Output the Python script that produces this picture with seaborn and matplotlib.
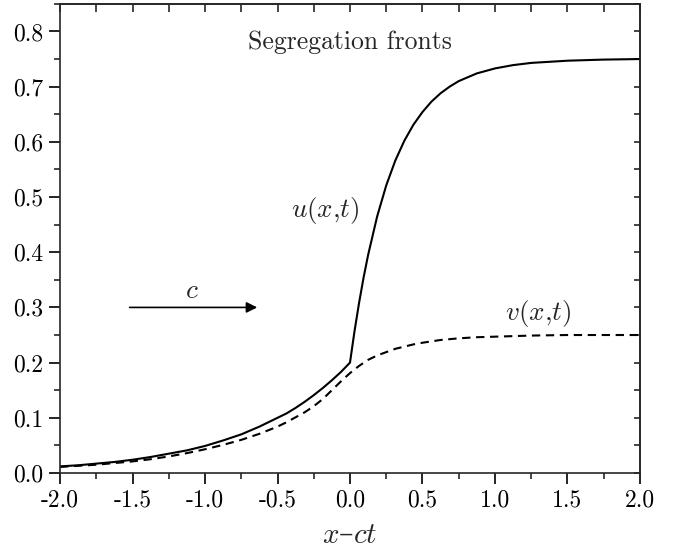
import pandas as pd
import matplotlib
matplotlib.use("Agg")
import matplotlib.pyplot as plt
from matplotlib.ticker import MultipleLocator
import seaborn as sns

# --- values ---
u_x = [-2.0, -1.875, -1.75, -1.625, -1.5, -1.375, -1.25, -1.125, -1.0, -0.875,
       -0.75, -0.625, -0.5, -0.4375, -0.375, -0.3125, -0.25, -0.1875, -0.125,
       -0.0625, 0.0, 0.03125, 0.0625, 0.09375, 0.125, 0.1875, 0.25, 0.3125,
       0.375, 0.4375, 0.5, 0.5625, 0.625, 0.6875, 0.75, 0.875, 1.0, 1.125,
       1.25, 1.5, 1.75, 2.0]
u_y = [0.012, 0.014, 0.017, 0.020, 0.024, 0.029, 0.035, 0.041, 0.049, 0.059,
       0.070, 0.084, 0.100, 0.108, 0.118, 0.129, 0.141, 0.154, 0.168,
       0.183, 0.200, 0.257, 0.308, 0.354, 0.395, 0.465, 0.521, 0.566,
       0.602, 0.631, 0.654, 0.673, 0.688, 0.700, 0.710, 0.724, 0.733, 0.739,
       0.743, 0.747, 0.749, 0.750]

v_x = [-2.0, -1.875, -1.75, -1.625, -1.5, -1.375, -1.25, -1.125, -1.0, -0.875,
       -0.75, -0.625, -0.5, -0.4375, -0.375, -0.3125, -0.25, -0.1875, -0.125,
       -0.0625, 0.0, 0.0625, 0.125, 0.1875, 0.25, 0.3125, 0.375, 0.4375, 0.5,
       0.625, 0.75, 0.875, 1.0, 1.25, 1.5, 1.75, 2.0]
v_y = [0.011, 0.013, 0.015, 0.018, 0.021, 0.025, 0.030, 0.036, 0.043, 0.051,
       0.060, 0.071, 0.084, 0.092, 0.101, 0.110, 0.121, 0.134, 0.150,
       0.166, 0.181, 0.194, 0.205, 0.213, 0.219, 0.225, 0.229, 0.233, 0.236,
       0.241, 0.244, 0.246, 0.247, 0.249, 0.250, 0.250, 0.250]

x_ticks = [-2.0, -1.5, -1.0, -0.5, 0.0, 0.5, 1.0, 1.5, 2.0]
y_ticks = [0.0, 0.1, 0.2, 0.3, 0.4, 0.5, 0.6, 0.7, 0.8]

df_u = pd.DataFrame({"x": u_x, "y": u_y})
df_v = pd.DataFrame({"x": v_x, "y": v_y})

sns.set_theme(style="ticks")
plt.rcParams["font.family"] = ["cmr10", "DejaVu Serif"]
plt.rcParams["mathtext.fontset"] = "cm"
plt.rcParams["axes.unicode_minus"] = False
plt.rcParams["axes.linewidth"] = 1.2

fig = plt.figure(figsize=(6.75, 5.5), dpi=100)
ax = fig.add_axes([0.089, 0.14, 0.859, 0.853])

sns.lineplot(data=df_u, x="x", y="y", ax=ax, color="black", lw=1.5)
sns.lineplot(data=df_v, x="x", y="y", ax=ax, color="black", lw=1.5,
             linestyle=(0, (4, 2.7)))

ax.set_xlim(-2, 2)
ax.set_ylim(0, 0.85)
ax.set_xticks(x_ticks)
ax.set_yticks(y_ticks)
ax.set_xticklabels([f"{t:.1f}" for t in x_ticks])
ax.set_yticklabels([f"{t:.1f}" for t in y_ticks])
ax.xaxis.set_minor_locator(MultipleLocator(0.25))
ax.yaxis.set_minor_locator(MultipleLocator(0.05))
ax.tick_params(which="major", direction="out", length=8, width=1.2,
               labelsize=17, colors="black", pad=4)
ax.tick_params(which="minor", direction="out", length=4.5, width=1.2)

# mirrored ticks on top and right, pointing inward
top = ax.secondary_xaxis("top")
top.xaxis.set_major_locator(MultipleLocator(0.5))
top.xaxis.set_minor_locator(MultipleLocator(0.25))
top.tick_params(which="both", direction="in", length=6, width=1.2, labeltop=False)
right = ax.secondary_yaxis("right")
right.yaxis.set_major_locator(MultipleLocator(0.1))
right.yaxis.set_minor_locator(MultipleLocator(0.05))
right.tick_params(which="both", direction="in", length=4, width=1.2, labelright=False)

ax.set_xlabel(r"$x$–$ct$", fontsize=21, labelpad=6.5, family="DejaVu Serif")
ax.set_ylabel("")

ax.text(0.0, 0.781, "Segregation fronts", fontsize=18.5, ha="center", va="center")
ax.text(-0.17, 0.476, r"$u(x{,}t)$", fontsize=19.5, ha="center", va="center")
ax.text(1.30, 0.289, r"$v(x{,}t)$", fontsize=19.5, ha="center", va="center")
ax.text(-1.09, 0.329, r"$c$", fontsize=19.5, ha="center", va="center")
ax.annotate("", xy=(-0.64, 0.3), xytext=(-1.52, 0.3),
            arrowprops=dict(arrowstyle="-|>", color="black", lw=1.2,
                            mutation_scale=16, shrinkA=0, shrinkB=0))

fig.savefig("out.png", dpi=100)
